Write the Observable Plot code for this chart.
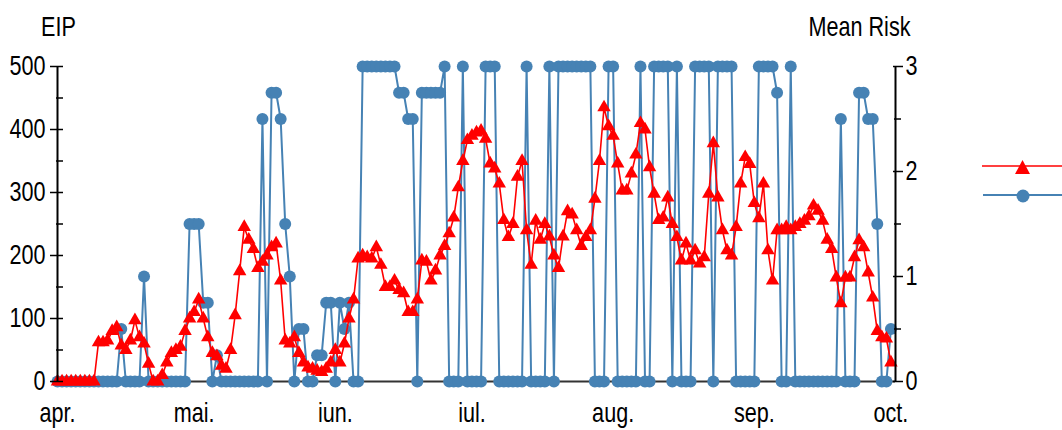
<!DOCTYPE html>
<html><head><meta charset="utf-8">
<script src="https://cdn.jsdelivr.net/npm/d3@7"></script>
<script src="https://cdn.jsdelivr.net/npm/@observablehq/plot@0.6"></script>
<style>
html,body{margin:0;padding:0;background:#fff;}
#wrap{position:relative;width:1062px;height:430px;overflow:hidden;background:#fff;}
#legend{position:absolute;left:0;top:0;pointer-events:none;}
</style></head><body><div id="wrap"></div>
<script>
// ---- data (daily, from 1 April) ----
const firstDay = "2013-04-01";
const lastDay = "2013-10-02";
const monthLabels = ["apr.", "mai.", "iun.", "iul.", "aug.", "sep.", "oct."];
const monthStarts = ["2013-04-01", "2013-05-01", "2013-06-01", "2013-07-01", "2013-08-01", "2013-09-01", "2013-10-01"];
const eipTicks = [0, 100, 200, 300, 400, 500];
const eipMinorTicks = [50, 150, 250, 350, 450];
const riskTicks = [0, 1, 2, 3];
const riskMinorTicks = [0.5, 1.5, 2.5];
const eipMax = 500;
const riskMax = 3;

const eip = [
  0,0,0,0,0,0,0,0,0,
  62,62,65,80,86,57,50,65,97,70,60,28,
  0,0,10,30,45,50,55,80,100,110,130,100,70,45,40,25,20,50,105,175,245,225,210,180,
  190,200,213,219,160,65,60,70,45,30,22,20,17,15,20,30,50,30,60,100,130,195,200,
  197,195,213,185,150,150,160,145,140,110,110,130,192,190,160,176,200,215,235,260,308,350,383,
  390,395,398,385,346,338,314,256,229,250,325,350,240,185,255,225,250,230,200,180,230,270,265,
  240,215,229,240,290,350,435,405,390,346,303,303,330,360,410,400,340,298,256,260,292,250,229,192,
  219,192,208,187,197,298,378,292,240,208,200,245,314,356,345,283,259,314,208,160,240,240,
  245,240,245,250,255,262,279,271,255,225,210,165,124,165,165,197,224,213,173,133,80,70,68,30
];

const meanRisk = [
  0,0,0,0,0,0,0,0,0,0,0,0,0,0, 0.5, 0,0,0,0, 1, 0,0,0,0,0,0,0,0,0,
  1.5,1.5,1.5, 0.75,0.75, 0, 0.25, 0,0,0,0,0,0,0,0,0,
  2.5,0,2.75,2.75,2.5,1.5,1,0,0.5,0.5,0,0,0.25,0.25,0.75,0.75,0,0.75,0.5,0.75,0,0,
  3,3,3,3,3,3,3,3, 2.75,2.75, 2.5,2.5, 0, 2.75,2.75,2.75,2.75,2.75, 3, 0,0,0, 3, 0,0,0,0,
  3,3,3, 0,0,0,0,0,0, 3, 0,0,0,0, 3, 0, 3,3,3,3,3,3,3,3, 0,0,0, 3,3, 0,0,0,0,0,
  3, 0,0, 3,3,3,3, 0, 3, 0,0,0, 3,3,3,3, 0, 3,3,3,3, 0,0,0,0,0,
  3,3,3,3, 2.75, 0,0, 3, 0,0,0,0,0,0,0,0,0,0, 2.5, 0,0,0, 2.75,2.75, 2.5,2.5, 1.5, 0,0, 0.5
];

// ---- build table ----
const day0 = new Date(firstDay + "T00:00:00Z");
const rows = eip.map((v, i) => ({
  date: d3.utcDay.offset(day0, i),
  eip: v,
  riskScaled: meanRisk[i] * eipMax / riskMax
}));
const monthDates = monthStarts.map(s => new Date(s + "T00:00:00Z"));
const monthFmt = d => monthLabels[monthDates.findIndex(m => +m === +d)];
const xDomain = [day0, new Date(lastDay + "T00:00:00Z")];

const font = '"Liberation Sans",Arial,sans-serif';
const FS = 27;

function tickOnly(opts) {
  if (Plot.axisTickY) return Plot.axisTickY(opts);
  return Plot.axisY({...opts, tickFormat: () => ""});
}

const chart = Plot.plot({
  width: 1062,
  height: 430,
  marginLeft: 57,
  marginRight: 167,
  marginTop: 66,
  marginBottom: 49,
  style: {fontFamily: font, fontSize: FS + "px", color: "#000", background: "#fff", overflow: "visible"},
  x: {type: "utc", domain: xDomain},
  y: {domain: [0, eipMax]},
  marks: [
    Plot.ruleY([0], {stroke: "#333", strokeWidth: 2}),
    Plot.line(rows, {x: "date", y: "riskScaled", stroke: "#4682b4", strokeWidth: 2}),
    Plot.dot(rows, {x: "date", y: "riskScaled", r: 6, fill: "#4682b4", stroke: "none"}),
    Plot.line(rows, {x: "date", y: "eip", stroke: "#ff0000", strokeWidth: 1.6}),
    Plot.dot(rows, {x: "date", y: "eip", r: 5, symbol: "triangle", fill: "#ff0000", stroke: "none"}),
    Plot.ruleX([xDomain[0]], {y1: 0, y2: eipMax, stroke: "#000", strokeWidth: 2}),
    Plot.ruleX([xDomain[1]], {y1: 0, y2: eipMax, stroke: "#000", strokeWidth: 2}),
    // left axis
    Plot.axisY({anchor: "left", ticks: eipTicks, tickSize: 7, tickPadding: 5, label: null, strokeWidth: 1.5}),
    tickOnly({anchor: "left", ticks: eipTicks, tickSize: 6, dx: 6, strokeWidth: 1.5}),
    tickOnly({anchor: "left", ticks: eipMinorTicks, tickSize: 7, dx: 6, strokeWidth: 1.5}),
    // right axis (Mean Risk)
    Plot.axisY({anchor: "right", ticks: riskTicks.map(r => r * eipMax / riskMax),
      tickFormat: v => String(Math.round(v * riskMax / eipMax)),
      tickSize: 7, tickPadding: 3, label: null, strokeWidth: 1.5}),
    tickOnly({anchor: "right", ticks: riskTicks.map(r => r * eipMax / riskMax), tickSize: 3, dx: -3, strokeWidth: 1.5}),
    tickOnly({anchor: "right", ticks: riskMinorTicks.map(r => r * eipMax / riskMax), tickSize: 7, dx: -2, strokeWidth: 1.5}),
    // x axis
    Plot.axisX({ticks: monthDates, tickFormat: monthFmt, tickSize: 0, tickPadding: 21, label: null}),
    // axis titles
    Plot.text(["EIP"], {frameAnchor: "top-left", textAnchor: "middle", lineAnchor: "bottom", dx: 1, dy: -31, fontSize: FS}),
    Plot.text(["Mean Risk"], {frameAnchor: "top-right", textAnchor: "end", lineAnchor: "bottom", dx: 15, dy: -31, fontSize: FS})
  ]
});

// condense the lettering horizontally (the original uses a narrow face)
for (const t of chart.querySelectorAll("text")) {
  const x = parseFloat(t.getAttribute("x") || "0") || 0;
  if (t.hasAttribute("x")) t.removeAttribute("x");
  const tr = t.getAttribute("transform") || "";
  t.setAttribute("transform", `${tr} translate(${x},0) scale(0.8,1)`.trim());
}
document.getElementById("wrap").appendChild(chart);

// legend (right edge, labels fall outside the window)
const ns = "http://www.w3.org/2000/svg";
const lg = document.createElementNS(ns, "svg");
lg.setAttribute("id", "legend");
lg.setAttribute("width", 1062);
lg.setAttribute("height", 430);
lg.innerHTML = `
  <line x1="982" x2="1062" y1="166" y2="166" stroke="#ff0000" stroke-width="1.7"/>
  <polygon points="1015,174 1030,174 1022.5,160" fill="#ff0000"/>
  <line x1="983" x2="1062" y1="195" y2="195" stroke="#4682b4" stroke-width="2"/>
  <circle cx="1023" cy="196" r="6.5" fill="#4682b4"/>`;
document.getElementById("wrap").appendChild(lg);
</script>
</body></html>
